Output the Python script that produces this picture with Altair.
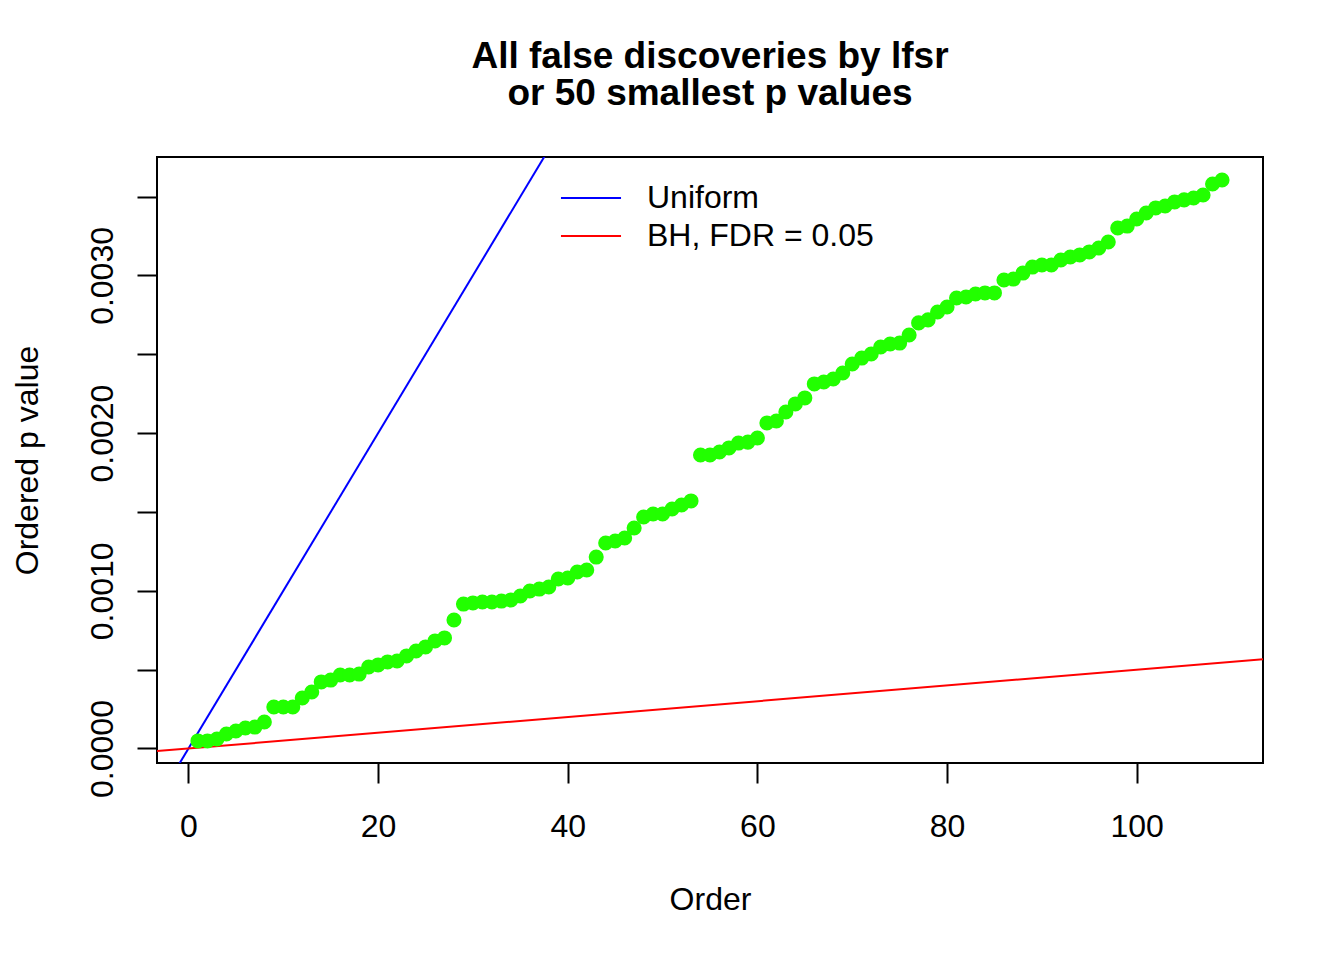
import altair as alt
import pandas as pd

# Ordered p values (x = 1..109) (units: 1e-4)
order = list(range(1, 110))
pvals_e4 = [
    0.48, 0.48, 0.60, 0.92, 1.11, 1.30, 1.36, 1.68, 2.63, 2.63,
    2.63, 3.20, 3.58, 4.22, 4.34, 4.66, 4.66, 4.72, 5.17, 5.30,
    5.49, 5.55, 5.87, 6.18, 6.44, 6.82, 7.01, 8.15, 9.16, 9.23,
    9.29, 9.29, 9.35, 9.42, 9.67, 9.99, 10.11, 10.24, 10.75, 10.81,
    11.19, 11.32, 12.14, 13.03, 13.16, 13.35, 13.98, 14.68, 14.87, 14.87,
    15.19, 15.44, 15.70, 18.61, 18.61, 18.80, 19.06, 19.37, 19.43, 19.69,
    20.64, 20.77, 21.34, 21.85, 22.23, 23.12, 23.24, 23.43, 23.81, 24.38,
    24.76, 25.02, 25.46, 25.65, 25.71, 26.22, 26.99, 27.18, 27.68, 28.00,
    28.57, 28.63, 28.82, 28.89, 28.89, 29.71, 29.77, 30.15, 30.53, 30.66,
    30.66, 30.98, 31.17, 31.30, 31.49, 31.74, 32.12, 33.01, 33.13, 33.58,
    33.96, 34.28, 34.40, 34.66, 34.79, 34.91, 35.10, 35.80, 36.05,
]
pvals = [v * 1e-4 for v in pvals_e4]

# Reference lines (abline through origin)
n_tests = 10000
fdr = 0.05
line_names = ["Uniform", "BH, FDR = 0.05"]
line_slopes = [1.0 / n_tests, fdr / n_tests]
line_colors = ["#0000FF", "#FF0000"]
line_x_ends = [-20, 140]

x_ticks = [0, 20, 40, 60, 80, 100]
y_ticks = [0.0, 0.0005, 0.0010, 0.0015, 0.0020, 0.0025, 0.0030, 0.0035]
x_domain = [-3.32, 113.32]
y_domain = [-0.000092, 0.003751]

FONT = "Liberation Sans"

pts = pd.DataFrame({"Order": order, "p": pvals})
lines = pd.DataFrame(
    [
        {"series": nm, "Order": xe, "p": xe * s}
        for nm, s in zip(line_names, line_slopes)
        for xe in line_x_ends
    ]
)

x_scale = alt.Scale(domain=x_domain, nice=False, zero=False)
y_scale = alt.Scale(domain=y_domain, nice=False, zero=False)

x_axis = alt.Axis(
    values=x_ticks, title="Order", grid=False, domain=False,
    tickSize=20, tickWidth=2, tickColor="black",
    labelFont=FONT, labelFontSize=32, labelColor="black",
    labelBaseline="alphabetic", labelPadding=53, labelFlush=False,
    labelOverlap=False,
    titleFont=FONT, titleFontSize=32, titleFontWeight="normal", titleColor="black",
    titleX=553, titleY=146, titleBaseline="alphabetic", titleAlign="center",
)
y_axis = alt.Axis(
    values=y_ticks, title="Ordered p value", grid=False, domain=False,
    tickSize=20, tickWidth=2, tickColor="black",
    labelFont=FONT, labelFontSize=32, labelColor="black",
    labelAngle=270, labelAlign="center", labelBaseline="alphabetic",
    labelPadding=25, labelFlush=False, labelOverlap=False,
    labelExpr="abs(round(datum.value*10000)) % 10 == 0 ? format(datum.value, '.4f') : ''",
    titleFont=FONT, titleFontSize=32, titleFontWeight="normal", titleColor="black",
    titleAngle=270, titleX=-120, titleY=303, titleBaseline="alphabetic",
    titleAlign="center",
)

points = alt.Chart(pts).mark_circle(size=227, color="#22FF00", opacity=1).encode(
    x=alt.X("Order:Q", scale=x_scale, axis=x_axis),
    y=alt.Y("p:Q", scale=y_scale, axis=y_axis),
)

ref_lines = alt.Chart(lines).mark_line(clip=True, strokeWidth=2).encode(
    x=alt.X("Order:Q", scale=x_scale),
    y=alt.Y("p:Q", scale=y_scale),
    color=alt.Color(
        "series:N",
        scale=alt.Scale(domain=line_names, range=line_colors),
        sort=line_names,
        legend=alt.Legend(
            title=None, orient="none", legendX=414, legendY=21,
            symbolType="M-1.58,0H1.58", symbolSize=1444, symbolStrokeWidth=2,
            labelFont=FONT, labelFontSize=32, labelColor="black",
            labelOffset=36, labelLimit=600, rowPadding=2, padding=0,
        ),
    ),
    detail="series:N",
)

chart = (
    alt.layer(ref_lines, points)
    .properties(
        width=1106,
        height=606,
        autosize=alt.AutoSizeParams(type="none"),
        padding={"left": 149, "top": 149, "right": 70, "bottom": 180},
        title=alt.TitleParams(
            text=["All false discoveries by lfsr", "or 50 smallest p values"],
            font=FONT, fontSize=37, fontWeight="bold", color="black",
            anchor="middle", frame="group", baseline="bottom",
            lineHeight=37, offset=7,
        ),
    )
    .configure(background="white")
    .configure_view(stroke="black", strokeWidth=2)
)

chart.save("out.html", embed_options={"renderer": "svg", "actions": False})
